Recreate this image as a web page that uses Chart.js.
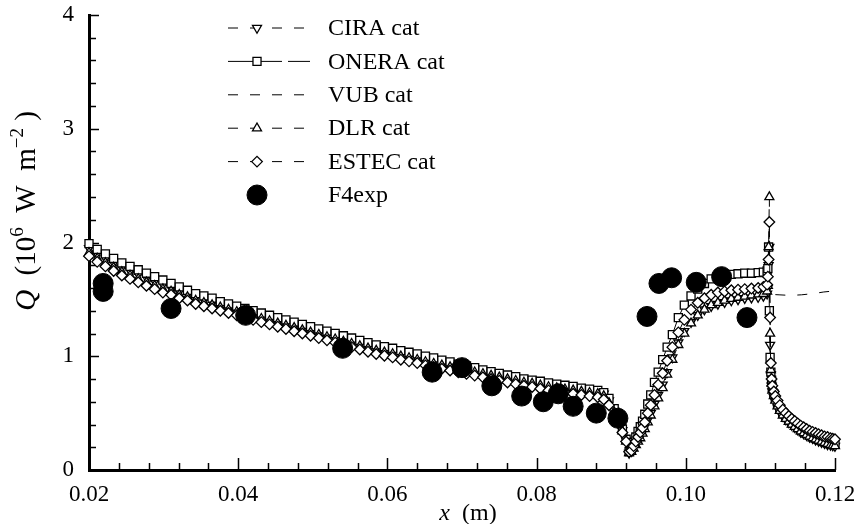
<!DOCTYPE html>
<html>
<head>
<meta charset="utf-8">
<title>Surface heat flux</title>
<script src="https://cdn.jsdelivr.net/npm/chart.js@4.4.1/dist/chart.umd.min.js"></script>
<style>
  html, body { margin: 0; padding: 0; background: #fff; }
  #wrap { width: 859px; height: 524px; position: relative; }
</style>
</head>
<body>
<div id="wrap"><canvas id="fluxChart"></canvas></div>
<script>
// Wall positions of the computed solutions (m): flat plate, dip, recovery, step, tail
const xCfd = [
  0.0200, 0.0211, 0.0222, 0.0233, 0.0244, 0.0255, 0.0266, 0.0277, 0.0288, 0.0299,
  0.0310, 0.0321, 0.0332, 0.0343, 0.0354, 0.0365, 0.0376, 0.0387, 0.0398, 0.0409,
  0.0420, 0.0431, 0.0442, 0.0453, 0.0464, 0.0475, 0.0486, 0.0497, 0.0508, 0.0519,
  0.0530, 0.0541, 0.0552, 0.0563, 0.0574, 0.0585, 0.0596, 0.0607, 0.0618, 0.0629,
  0.0640, 0.0651, 0.0662, 0.0673, 0.0684, 0.0695, 0.0706, 0.0717, 0.0728, 0.0739,
  0.0750, 0.0761, 0.0772, 0.0783, 0.0794, 0.0805, 0.0816, 0.0827, 0.0838, 0.0849,
  0.0860, 0.0871, 0.0882,
  0.0890, 0.0897, 0.0904, 0.0910, 0.0915, 0.0920,
  0.0924, 0.0927, 0.0930, 0.0933, 0.0936, 0.0939, 0.0942, 0.0945, 0.0949, 0.0953,
  0.0958, 0.0963, 0.0969, 0.0975, 0.0982, 0.0990, 0.0998, 0.1007, 0.1016, 0.1025,
  0.1034, 0.1043, 0.1052, 0.1061, 0.1070, 0.1079, 0.1088, 0.1097, 0.1104, 0.1109,
  0.1110, 0.1111, 0.1112, 0.1113, 0.1114, 0.1115,
  0.1116, 0.1118, 0.1120, 0.1123, 0.1126, 0.1130, 0.1134, 0.1138, 0.1142, 0.1146,
  0.1150, 0.1154, 0.1158, 0.1162, 0.1166, 0.1170, 0.1174, 0.1178, 0.1182, 0.1186,
  0.1190, 0.1194, 0.1197, 0.1200
];

// Heat flux, 10^6 W/m^2
const qCira = [
  1.95, 1.90, 1.86, 1.82, 1.78, 1.75, 1.72, 1.69, 1.66, 1.63,
  1.60, 1.57, 1.55, 1.52, 1.50, 1.48, 1.45, 1.43, 1.41, 1.39,
  1.37, 1.35, 1.33, 1.31, 1.29, 1.27, 1.25, 1.23, 1.21, 1.19,
  1.17, 1.15, 1.13, 1.11, 1.09, 1.07, 1.055, 1.04, 1.02, 1.005,
  0.99, 0.97, 0.955, 0.94, 0.925, 0.905, 0.89, 0.875, 0.86, 0.845,
  0.83, 0.815, 0.80, 0.785, 0.775, 0.765, 0.75, 0.74, 0.73, 0.72,
  0.71, 0.70, 0.69,
  0.67, 0.61, 0.52, 0.43, 0.35, 0.26,
  0.15, 0.165, 0.20, 0.23, 0.265, 0.30, 0.34, 0.38, 0.44, 0.50,
  0.58, 0.66, 0.75, 0.86, 0.99, 1.12, 1.22, 1.30, 1.36, 1.41,
  1.44, 1.46, 1.475, 1.49, 1.50, 1.51, 1.515, 1.52, 1.53, 1.55,
  1.60, 1.80, 1.96, 1.10, 0.84, 0.74,
  0.69, 0.64, 0.60, 0.55, 0.51, 0.475, 0.445, 0.42, 0.395, 0.375,
  0.355, 0.335, 0.32, 0.305, 0.29, 0.28, 0.265, 0.255, 0.245, 0.235,
  0.225, 0.22, 0.215, 0.21
];

const qOnera = [
  1.99, 1.94, 1.90, 1.86, 1.82, 1.79, 1.76, 1.73, 1.70, 1.67,
  1.64, 1.61, 1.58, 1.55, 1.53, 1.51, 1.48, 1.46, 1.44, 1.42,
  1.40, 1.38, 1.36, 1.34, 1.32, 1.30, 1.28, 1.26, 1.24, 1.22,
  1.20, 1.18, 1.16, 1.14, 1.12, 1.10, 1.085, 1.07, 1.05, 1.035,
  1.02, 1.00, 0.985, 0.965, 0.95, 0.93, 0.915, 0.90, 0.88, 0.865,
  0.85, 0.835, 0.82, 0.80, 0.79, 0.78, 0.765, 0.755, 0.745, 0.735,
  0.72, 0.71, 0.70,
  0.68, 0.63, 0.54, 0.45, 0.36, 0.27,
  0.16, 0.18, 0.24, 0.29, 0.34, 0.38, 0.43, 0.49, 0.58, 0.66,
  0.77, 0.86, 0.97, 1.08, 1.19, 1.34, 1.45, 1.53, 1.59, 1.64,
  1.68, 1.70, 1.715, 1.72, 1.725, 1.73, 1.73, 1.735, 1.74, 1.75,
  1.77, 1.96, 1.40, 0.99, 0.86, 0.79,
  0.72, 0.67, 0.63, 0.58, 0.54, 0.50, 0.465, 0.44, 0.415, 0.395,
  0.375, 0.355, 0.34, 0.325, 0.31, 0.295, 0.285, 0.27, 0.26, 0.25,
  0.24, 0.235, 0.23, 0.225
];

const qDlr = [
  1.91, 1.86, 1.82, 1.78, 1.74, 1.71, 1.68, 1.65, 1.62, 1.59,
  1.57, 1.54, 1.52, 1.49, 1.47, 1.45, 1.43, 1.41, 1.39, 1.37,
  1.35, 1.33, 1.31, 1.29, 1.27, 1.25, 1.23, 1.21, 1.19, 1.17,
  1.15, 1.13, 1.11, 1.09, 1.07, 1.05, 1.035, 1.02, 1.00, 0.985,
  0.97, 0.95, 0.935, 0.92, 0.905, 0.89, 0.875, 0.86, 0.845, 0.83,
  0.815, 0.80, 0.785, 0.77, 0.76, 0.745, 0.73, 0.72, 0.71, 0.70,
  0.69, 0.68, 0.67,
  0.65, 0.59, 0.51, 0.42, 0.34, 0.25,
  0.15, 0.16, 0.19, 0.22, 0.25, 0.28, 0.32, 0.36, 0.42, 0.48,
  0.56, 0.63, 0.72, 0.84, 0.97, 1.10, 1.20, 1.29, 1.36, 1.41,
  1.45, 1.47, 1.49, 1.505, 1.515, 1.525, 1.535, 1.545, 1.55, 1.57,
  1.62, 1.96, 2.40, 1.20, 0.88, 0.76,
  0.70, 0.65, 0.61, 0.56, 0.52, 0.48, 0.45, 0.425, 0.40, 0.38,
  0.36, 0.34, 0.325, 0.31, 0.295, 0.28, 0.27, 0.26, 0.25, 0.24,
  0.23, 0.22, 0.215, 0.21
];

const qEstec = [
  1.88, 1.83, 1.79, 1.75, 1.71, 1.68, 1.65, 1.62, 1.59, 1.56,
  1.54, 1.51, 1.49, 1.46, 1.44, 1.42, 1.40, 1.38, 1.36, 1.34,
  1.32, 1.30, 1.28, 1.26, 1.24, 1.22, 1.20, 1.18, 1.16, 1.14,
  1.12, 1.10, 1.08, 1.06, 1.04, 1.02, 1.005, 0.99, 0.97, 0.955,
  0.94, 0.92, 0.905, 0.89, 0.875, 0.86, 0.845, 0.83, 0.815, 0.80,
  0.785, 0.77, 0.755, 0.74, 0.73, 0.715, 0.70, 0.69, 0.68, 0.67,
  0.66, 0.65, 0.64,
  0.62, 0.57, 0.49, 0.41, 0.33, 0.25,
  0.16, 0.17, 0.21, 0.25, 0.29, 0.33, 0.37, 0.42, 0.50, 0.57,
  0.66, 0.75, 0.85, 0.96, 1.08, 1.21, 1.32, 1.41, 1.47, 1.51,
  1.54, 1.56, 1.57, 1.58, 1.585, 1.59, 1.595, 1.60, 1.61, 1.63,
  1.70, 1.85, 2.18, 1.34, 0.94, 0.80,
  0.74, 0.69, 0.65, 0.61, 0.57, 0.53, 0.50, 0.475, 0.45, 0.43,
  0.41, 0.39, 0.375, 0.36, 0.345, 0.335, 0.325, 0.315, 0.305, 0.295,
  0.29, 0.28, 0.275, 0.27
];

// VUB solution is plotted as a plain dashed line on its own grid
const xVub = [
  0.020, 0.025, 0.030, 0.035, 0.040, 0.045, 0.050, 0.055, 0.060, 0.065,
  0.070, 0.075, 0.080, 0.085, 0.0885, 0.0900, 0.0912, 0.0924, 0.0933, 0.0942,
  0.0952, 0.0963, 0.0975, 0.0990, 0.1007, 0.1025, 0.1043, 0.1061, 0.1079, 0.1097,
  0.1110, 0.1125, 0.1140, 0.1155, 0.1170, 0.1185, 0.1200
];
const qVub = [
  1.93, 1.75, 1.61, 1.50, 1.40, 1.31, 1.22, 1.15, 1.07, 0.99,
  0.91, 0.84, 0.78, 0.72, 0.68, 0.57, 0.42, 0.16, 0.26, 0.36,
  0.52, 0.70, 0.90, 1.12, 1.30, 1.42, 1.48, 1.51, 1.525, 1.54,
  1.545, 1.54, 1.535, 1.54, 1.55, 1.565, 1.575
];

// F4 wind tunnel measurements
const xExp = [
  0.0219, 0.0219, 0.0310, 0.0410, 0.0540, 0.0660, 0.0700, 0.0740, 0.0780, 0.0809,
  0.0829, 0.0849, 0.0880, 0.0909, 0.0948, 0.0964, 0.0981, 0.1014, 0.1048, 0.1082
];
const qExp = [
  1.64, 1.57, 1.42, 1.36, 1.07, 0.86, 0.90, 0.74, 0.65, 0.60,
  0.67, 0.56, 0.50, 0.455, 1.35, 1.64, 1.69, 1.65, 1.70, 1.34
];

const xTicks = [0.02, 0.04, 0.06, 0.08, 0.10, 0.12];
const yTicks = [0, 1, 2, 3, 4];
const xMinorStep = 0.004;
const yMinorStep = 0.2;

const black = '#000';
const serif = "'Liberation Serif', 'Times New Roman', serif";
Chart.defaults.font.family = serif;
Chart.defaults.color = black;

function pairs(xs, ys) {
  return xs.map((x, i) => ({ x: x, y: ys[i] }));
}

function drawMarker(ctx, ds, x, y) {
  const r = ds.pointRadius;
  ctx.beginPath();
  if (ds.pointStyle === 'rect') {
    const h = r * Math.SQRT1_2;
    ctx.rect(x - h, y - h, 2 * h, 2 * h);
  } else if (ds.pointStyle === 'rectRot') {
    ctx.moveTo(x - r, y);
    ctx.lineTo(x, y - r);
    ctx.lineTo(x + r, y);
    ctx.lineTo(x, y + r);
    ctx.closePath();
  } else if (ds.pointStyle === 'triangle') {
    let a = (ds.pointRotation || 0) * Math.PI / 180;
    for (let k = 0; k < 3; k++) {
      const px = x + Math.sin(a) * r, py = y - Math.cos(a) * r;
      if (k === 0) ctx.moveTo(px, py); else ctx.lineTo(px, py);
      a += 2 * Math.PI / 3;
    }
    ctx.closePath();
  } else {
    ctx.arc(x, y, r, 0, 2 * Math.PI);
  }
  ctx.fillStyle = ds.pointBackgroundColor;
  ctx.fill();
  ctx.lineWidth = ds.pointBorderWidth;
  ctx.strokeStyle = black;
  ctx.stroke();
}

// inward tick marks on the two axes
const innerTicks = {
  id: 'innerTicks',
  beforeDatasetsDraw(chart) {
    const ctx = chart.ctx;
    const xs = chart.scales.x, ys = chart.scales.y;
    const { left, bottom } = chart.chartArea;
    ctx.save();
    ctx.strokeStyle = black;
    ctx.lineWidth = 1.5;
    ctx.beginPath();
    for (let v = xs.min; v <= xs.max + 1e-9; v += xMinorStep) {
      const major = xTicks.some(t => Math.abs(t - v) < 1e-6);
      const px = Math.round(xs.getPixelForValue(v)) + 0.5;
      ctx.moveTo(px, bottom);
      ctx.lineTo(px, bottom - (major ? 12 : 7));
    }
    for (let v = ys.min; v <= ys.max + 1e-9; v += yMinorStep) {
      const major = yTicks.some(t => Math.abs(t - v) < 1e-6);
      const py = Math.round(ys.getPixelForValue(v)) + 0.5;
      ctx.moveTo(left, py);
      ctx.lineTo(left + (major ? 10 : 7), py);
    }
    ctx.stroke();
    ctx.restore();
  }
};

function drawRuns(ctx, runs, cx, cy) {
  let total = 0;
  runs.forEach(r => { ctx.font = r.font; r.w = ctx.measureText(r.text).width; total += r.w; });
  let x = cx - total / 2;
  runs.forEach(r => {
    ctx.font = r.font;
    ctx.fillText(r.text, x, cy + (r.dy || 0));
    x += r.w;
  });
}

// axis titles with italic symbols and superscripts
const axisTitles = {
  id: 'axisTitles',
  afterDraw(chart) {
    const ctx = chart.ctx;
    ctx.save();
    ctx.fillStyle = black;
    ctx.textBaseline = 'alphabetic';
    drawRuns(ctx, [
      { text: 'x', font: 'italic 24px ' + serif },
      { text: '  (m)', font: '24px ' + serif }
    ], 468, 520);
    ctx.translate(35, 211);
    ctx.rotate(-Math.PI / 2);
    drawRuns(ctx, [
      { text: 'Q', font: 'italic 29px ' + serif },
      { text: '  (10', font: '29px ' + serif },
      { text: '6', font: '19px ' + serif, dy: -12 },
      { text: '  W  m', font: '29px ' + serif },
      { text: '\u22122', font: '19px ' + serif, dy: -12 },
      { text: ' )', font: '29px ' + serif }
    ], 0, 0);
    ctx.restore();
  }
};

// legend: line sample with the marker on it, then the label
const sampleLegend = {
  id: 'sampleLegend',
  afterDraw(chart) {
    const ctx = chart.ctx;
    ctx.save();
    chart.data.datasets.forEach((ds, i) => {
      const y = 28 + i * 33.4;
      if (ds.showLine !== false) {
        ctx.beginPath();
        ctx.setLineDash(ds.borderDash || []);
        ctx.lineWidth = 1;
        ctx.strokeStyle = black;
        ctx.moveTo(228, y);
        ctx.lineTo(310, y);
        ctx.stroke();
        ctx.setLineDash([]);
      }
      if (ds.pointRadius > 0) drawMarker(ctx, ds, 257, y);
      ctx.fillStyle = black;
      ctx.font = '24px ' + serif;
      ctx.textBaseline = 'middle';
      ctx.fillText(ds.label, 328, y + 1);
    });
    ctx.restore();
  }
};

const lineBase = {
  showLine: true,
  borderColor: black,
  borderWidth: 1,
  pointBackgroundColor: '#fff',
  pointBorderColor: black,
  pointBorderWidth: 1.3,
  tension: 0,
  clip: false
};

const ctx = document.getElementById('fluxChart').getContext('2d');
const fluxChart = new Chart(ctx, {
  type: 'scatter',
  data: {
    datasets: [
      Object.assign({}, lineBase, {
        label: 'CIRA cat', data: pairs(xCfd, qCira),
        pointStyle: 'triangle', pointRotation: 180, pointRadius: 5.2,
        borderDash: [10, 12], order: 4
      }),
      Object.assign({}, lineBase, {
        label: 'ONERA cat', data: pairs(xCfd, qOnera),
        pointStyle: 'rect', pointRadius: 5.7,
        borderDash: [54, 6], order: 3
      }),
      Object.assign({}, lineBase, {
        label: 'VUB cat', data: pairs(xVub, qVub),
        pointRadius: 0, borderDash: [10, 12], order: 5
      }),
      Object.assign({}, lineBase, {
        label: 'DLR cat', data: pairs(xCfd, qDlr),
        pointStyle: 'triangle', pointRadius: 5.2,
        borderDash: [10, 12], order: 2
      }),
      Object.assign({}, lineBase, {
        label: 'ESTEC cat', data: pairs(xCfd, qEstec),
        pointStyle: 'rectRot', pointRadius: 5.3,
        borderDash: [10, 12], order: 1
      }),
      {
        label: 'F4exp', data: pairs(xExp, qExp),
        showLine: false, pointStyle: 'circle', pointRadius: 10,
        pointBackgroundColor: black, pointBorderColor: black, pointBorderWidth: 1,
        clip: false, order: 0
      }
    ]
  },
  options: {
    responsive: true,
    maintainAspectRatio: false,
    animation: false,
    events: [],
    layout: { autoPadding: false, padding: { left: 0, right: 24, top: 15, bottom: 0 } },
    plugins: {
      legend: { display: false },
      tooltip: { enabled: false }
    },
    scales: {
      x: {
        type: 'linear',
        min: 0.02,
        max: 0.12,
        afterBuildTicks: s => { s.ticks = xTicks.map(v => ({ value: v })); },
        afterFit: s => { s.height = 54; s.paddingLeft = 0; s.paddingRight = 0; },
        ticks: {
          callback: v => v.toFixed(2),
          color: black,
          font: { size: 23 },
          padding: 11,
          maxRotation: 0,
          autoSkip: false
        },
        grid: { display: false, drawTicks: false },
        border: { display: true, color: black, width: 3 }
      },
      y: {
        min: 0,
        max: 4,
        afterBuildTicks: s => { s.ticks = yTicks.map(v => ({ value: v })); },
        afterFit: s => { s.width = 89; s.paddingTop = 0; s.paddingBottom = 0; },
        ticks: {
          callback: v => String(v),
          color: black,
          font: { size: 23 },
          padding: 15
        },
        grid: { display: false, drawTicks: false },
        border: { display: true, color: black, width: 3 }
      }
    }
  },
  plugins: [innerTicks, axisTitles, sampleLegend]
});
</script>
</body>
</html>
